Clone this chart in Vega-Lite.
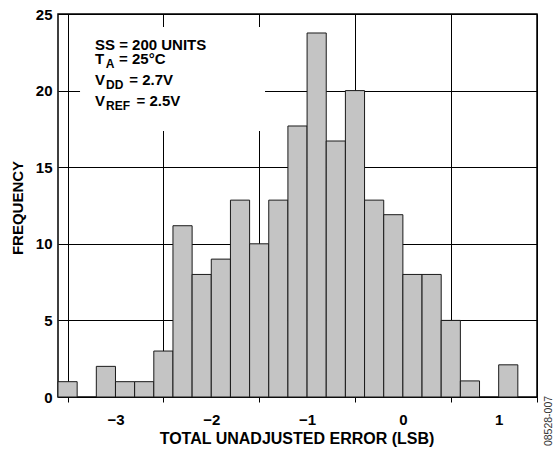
{
  "$schema": "https://vega.github.io/schema/vega-lite/v6.json",
  "width": 479,
  "height": 383,
  "autosize": {"type": "none"},
  "padding": {"left": 58, "top": 14, "right": 17, "bottom": 54},
  "background": "white",
  "config": {
    "font": "Liberation Sans",
    "view": {"stroke": "black", "strokeWidth": 1.5},
    "axis": {"labelFont": "Liberation Sans", "titleFont": "Liberation Sans"}
  },
  "datasets": {
    "bars": [
      {"x0": -3.6, "x1": -3.4, "n": 1},
      {"x0": -3.2, "x1": -3.0, "n": 2},
      {"x0": -3.0, "x1": -2.8, "n": 1},
      {"x0": -2.8, "x1": -2.6, "n": 1},
      {"x0": -2.6, "x1": -2.4, "n": 3},
      {"x0": -2.4, "x1": -2.2, "n": 11.18},
      {"x0": -2.2, "x1": -2.0, "n": 8},
      {"x0": -2.0, "x1": -1.8, "n": 9},
      {"x0": -1.8, "x1": -1.6, "n": 12.85},
      {"x0": -1.6, "x1": -1.4, "n": 10},
      {"x0": -1.4, "x1": -1.2, "n": 12.85},
      {"x0": -1.2, "x1": -1.0, "n": 17.69},
      {"x0": -1.0, "x1": -0.8, "n": 23.76},
      {"x0": -0.8, "x1": -0.6, "n": 16.71},
      {"x0": -0.6, "x1": -0.4, "n": 20},
      {"x0": -0.4, "x1": -0.2, "n": 12.85},
      {"x0": -0.2, "x1": 0.0, "n": 11.9},
      {"x0": 0.0, "x1": 0.2, "n": 8},
      {"x0": 0.2, "x1": 0.4, "n": 8},
      {"x0": 0.4, "x1": 0.6, "n": 5},
      {"x0": 0.6, "x1": 0.8, "n": 1.05},
      {"x0": 1.0, "x1": 1.2, "n": 2.1}
    ],
    "box": [
      {"bx0": -3.37, "bx1": -1.439, "by0": 17.36, "by1": 24.15}
    ],
    "notes": [
      {"t": "SS = 200 UNITS", "x": -3.214, "y": 22.65, "role": "main"},
      {"t": "T", "x": -3.214, "y": 21.72, "role": "main"},
      {"t": "A", "x": -3.102, "y": 21.72, "role": "sub"},
      {"t": "= 25°C", "x": -2.963, "y": 21.72, "role": "main"},
      {"t": "V", "x": -3.214, "y": 20.37, "role": "main"},
      {"t": "DD", "x": -3.099, "y": 20.37, "role": "sub"},
      {"t": "= 2.7V", "x": -2.856, "y": 20.37, "role": "main"},
      {"t": "V", "x": -3.214, "y": 19.0, "role": "main"},
      {"t": "REF", "x": -3.099, "y": 19.0, "role": "sub"},
      {"t": "= 2.5V", "x": -2.781, "y": 19.0, "role": "main"}
    ],
    "code": [
      {"t": "08528-007", "x": 1.53, "y": -1.567}
    ]
  },
  "layer": [
    {
      "data": {"name": "bars"},
      "mark": {"type": "bar", "fill": "#c4c4c4", "stroke": "#1a1a1a", "strokeWidth": 1},
      "encoding": {
        "x": {
          "field": "x0", "type": "quantitative",
          "scale": {"domain": [-3.6, 1.4], "nice": false, "zero": false},
          "axis": {
            "title": "TOTAL UNADJUSTED ERROR (LSB)",
            "values": [-3.5, -3, -2.5, -2, -1.5, -1, -0.5, 0, 0.5, 1, 1.4],
            "labelExpr": "round(datum.value) === datum.value ? format(datum.value, 'd') : ''",
            "labelOverlap": false,
            "labelFlush": false,
            "labelBound": false,
            "labelFontSize": 15,
            "labelFontWeight": "bold",
            "labelColor": "black",
            "labelPadding": 10,
            "domain": false,
            "grid": true,
            "gridColor": "black",
            "gridWidth": 1,
            "gridOpacity": {"condition": {"test": "round(datum.value) === datum.value", "value": 0}, "value": 1},
            "ticks": true,
            "tickSize": 5,
            "tickColor": "black",
            "tickWidth": 1,
            "tickOpacity": {"condition": {"test": "round(datum.value) === datum.value", "value": 0}, "value": 1},
            "titleFontSize": 16,
            "titleFontWeight": "bold",
            "titleColor": "black",
            "titleX": 238.5,
            "titleY": 46,
            "titleAlign": "center",
            "titleBaseline": "alphabetic"
          }
        },
        "x2": {"field": "x1"},
        "y": {
          "field": "n", "type": "quantitative",
          "scale": {"domain": [0, 25], "nice": false},
          "axis": {
            "title": "FREQUENCY",
            "values": [0, 5, 10, 15, 20, 25],
            "domain": false,
            "ticks": false,
            "tickSize": 0,
            "grid": true,
            "gridColor": "black",
            "gridWidth": 1,
            "gridOpacity": 1,
            "labelFontSize": 15,
            "labelFontWeight": "bold",
            "labelColor": "black",
            "labelPadding": 6,
            "labelBaseline": "middle",
            "labelOverlap": false,
            "labelFlush": false,
            "titleFontSize": 15,
            "titleFontWeight": "bold",
            "titleColor": "black",
            "titleAngle": 270,
            "titleX": -41,
            "titleY": 193.5,
            "titleAlign": "center",
            "titleBaseline": "middle"
          }
        },
        "y2": {"datum": 0}
      }
    },
    {
      "data": {"name": "box"},
      "mark": {"type": "rect", "fill": "white", "strokeWidth": 0},
      "encoding": {
        "x": {"field": "bx0", "type": "quantitative"},
        "x2": {"field": "bx1"},
        "y": {"field": "by0", "type": "quantitative"},
        "y2": {"field": "by1"}
      }
    },
    {
      "data": {"name": "notes"},
      "transform": [{"filter": "datum.role === 'main'"}],
      "mark": {"type": "text", "align": "left", "baseline": "alphabetic", "fontSize": 15, "fontWeight": "bold", "color": "black", "font": "Liberation Sans"},
      "encoding": {
        "x": {"field": "x", "type": "quantitative"},
        "y": {"field": "y", "type": "quantitative"},
        "text": {"field": "t"}
      }
    },
    {
      "data": {"name": "notes"},
      "transform": [{"filter": "datum.role === 'sub'"}],
      "mark": {"type": "text", "align": "left", "baseline": "alphabetic", "fontSize": 12, "fontWeight": "bold", "color": "black", "dy": 4, "font": "Liberation Sans"},
      "encoding": {
        "x": {"field": "x", "type": "quantitative"},
        "y": {"field": "y", "type": "quantitative"},
        "text": {"field": "t"}
      }
    },
    {
      "data": {"name": "code"},
      "mark": {"type": "text", "align": "center", "baseline": "middle", "angle": 270, "fontSize": 10.5, "color": "#333333", "font": "Liberation Sans"},
      "encoding": {
        "x": {"field": "x", "type": "quantitative"},
        "y": {"field": "y", "type": "quantitative"},
        "text": {"field": "t"}
      }
    }
  ]
}
